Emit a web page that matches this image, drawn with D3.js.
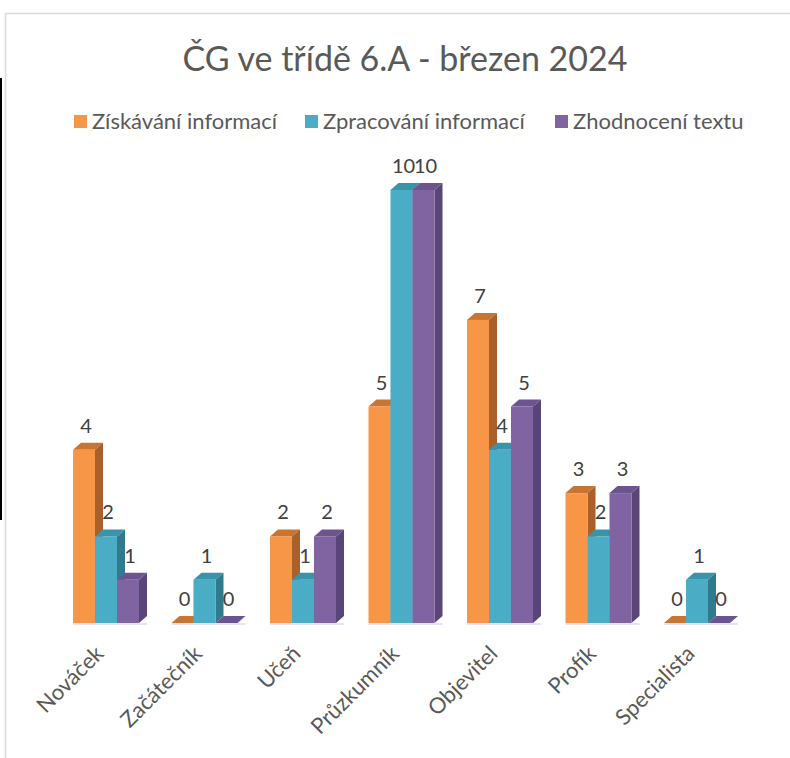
<!DOCTYPE html>
<html>
<head>
<meta charset="utf-8">
<script src="https://cdn.jsdelivr.net/npm/d3@7"></script>
<style>
  body { margin: 0; background: #fff; }
  text { font-family: Lato, "Open Sans", sans-serif; }
</style>
</head>
<body>
<script>
/*
DATA
*/
const categories = ["Nováček", "Začátečník", "Učeň", "Průzkumník", "Objevitel", "Profík", "Specialista"]
const series = ["Získávání informací", "Zpracování informací", "Zhodnocení textu"]
const ziskavani = [4, 0, 2, 5, 7, 3, 0]
const zpracovani = [2, 1, 1, 10, 4, 2, 1]
const zhodnoceni = [1, 0, 2, 10, 5, 3, 0]
const values = [ziskavani, zpracovani, zhodnoceni]

const title = "ČG ve třídě 6.A - březen 2024"

/*
SET UP
*/
const w = 790
const h = 758
const colors = ["#F79646", "#4BACC6", "#8064A2"]
const sideColors = ["#A9602A", "#2F7A8C", "#5A4578"]
const topColors = ["#C87533", "#3B93A9", "#6C5490"]
const depth = {dx: 8, dy: 7}

const svg = d3.select("body")
  .append("svg")
  .attr("width", w)
  .attr("height", h)

// frame of the chart area
svg.append("rect")
  .attr("x", 5.5)
  .attr("y", 13.5)
  .attr("width", 820)
  .attr("height", 800)
  .attr("fill", "none")
  .attr("stroke", "#d9d9d9")
  .attr("stroke-width", 1.5)

svg.append("line")
  .attr("x1", 1).attr("x2", 1)
  .attr("y1", 78).attr("y2", 520)
  .attr("stroke", "#000")
  .attr("stroke-width", 2)

/*
SCALES
*/
const x = d3.scaleBand()
  .domain(categories)
  .range([56.75, 746.25])

const xs = d3.scaleBand()
  .domain(series)
  .range([-33, 33])

const y = d3.scaleLinear()
  .domain([0, 10])
  .range([623, 190])

/*
TITLE & LEGEND
*/
svg.append("text")
  .attr("x", 405)
  .attr("y", 71)
  .attr("text-anchor", "middle")
  .attr("font-size", 34)
  .attr("fill", "#595959")
  .text(title)

const legendX = [74, 305, 555]
const legend = svg.selectAll(".legend")
  .data(series)
  .join("g")
  .attr("class", "legend")
  .attr("transform", (d, i) => `translate(${legendX[i]}, 122)`)

legend.append("rect")
  .attr("x", 0)
  .attr("y", -7)
  .attr("width", 13)
  .attr("height", 13)
  .attr("fill", (d, i) => colors[i])

legend.append("text")
  .attr("x", 18)
  .attr("y", 7)
  .attr("font-size", 22)
  .attr("fill", "#595959")
  .text(d => d)

/*
BARS
*/
// faint floor under each group
svg.selectAll(".floor")
  .data(categories)
  .join("line")
  .attr("class", "floor")
  .attr("x1", d => x(d) + x.bandwidth() / 2 - 33)
  .attr("x2", d => x(d) + x.bandwidth() / 2 + 33 + depth.dx)
  .attr("y1", y(0) + 1)
  .attr("y2", y(0) + 1)
  .attr("stroke", "#e2d8ef")
  .attr("stroke-width", 1.5)

const bars = []
categories.forEach((c, ci) => {
  series.forEach((s, si) => {
    bars.push({cat: c, ser: s, si: si, v: values[si][ci]})
  })
})

const bar = svg.selectAll(".bar")
  .data(bars)
  .join("g")
  .attr("class", "bar")

const bx = d => x(d.cat) + x.bandwidth() / 2 + xs(d.ser)
const bw = xs.bandwidth()

// top face
bar.append("path")
  .attr("d", d => {
    const x0 = bx(d), t = y(d.v)
    return `M${x0},${t} L${x0 + depth.dx},${t - depth.dy} L${x0 + bw + depth.dx},${t - depth.dy} L${x0 + bw},${t} Z`
  })
  .attr("fill", d => topColors[d.si])

// side face
bar.append("path")
  .attr("d", d => {
    const x0 = bx(d) + bw, t = y(d.v), b = y(0)
    return `M${x0},${t} L${x0 + depth.dx},${t - depth.dy} L${x0 + depth.dx},${b - depth.dy} L${x0},${b} Z`
  })
  .attr("fill", d => sideColors[d.si])

// front face
bar.append("rect")
  .attr("x", d => bx(d))
  .attr("y", d => y(d.v))
  .attr("width", bw)
  .attr("height", d => y(0) - y(d.v))
  .attr("fill", d => colors[d.si])

// value labels
svg.selectAll(".val")
  .data(bars)
  .join("text")
  .attr("class", "val")
  .attr("x", d => bx(d) + bw / 2 + 2)
  .attr("y", d => y(d.v) - 17)
  .attr("text-anchor", "middle")
  .attr("font-size", 20)
  .attr("fill", "#404040")
  .text(d => d.v)

/*
CATEGORY LABELS
*/
svg.selectAll(".cat")
  .data(categories)
  .join("text")
  .attr("class", "cat")
  .attr("text-anchor", "end")
  .attr("font-size", 22)
  .attr("fill", "#595959")
  .attr("transform", d => `translate(${x(d) + x.bandwidth() / 2 - 1}, 655) rotate(-45)`)
  .text(d => d)
</script>
</body>
</html>
